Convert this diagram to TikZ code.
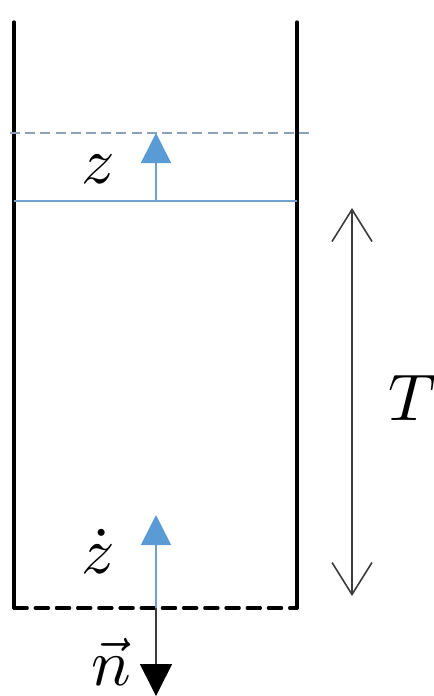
\documentclass[tikz,border=0pt]{standalone}
\usepackage{amsmath}
\usepackage{xcolor}
\usetikzlibrary{arrows.meta, positioning}
\definecolor{waterblue}{RGB}{91, 155, 213}
\definecolor{levelblue}{RGB}{112, 160, 204}
\definecolor{dashgray}{RGB}{140, 160, 185}
\definecolor{darkgray}{RGB}{60, 60, 60}

\begin{document}
\begin{tikzpicture}[x=0.25pt, y=-0.25pt,
    wall/.style={line width=0.8pt, line cap=round},
    rise/.style={-{Triangle[width=7.5pt, length=7.5pt, color=waterblue]},
                 draw=levelblue, line width=0.4pt},
    span/.style={{Straight Barb[width=10pt, length=8pt]}-{Straight Barb[width=10pt, length=8pt]},
                 draw=darkgray, line width=0.4pt},
    sym/.style={anchor=base, scale=1.65, inner sep=0pt}]

\useasboundingbox (0,0) rectangle (433,696);

% Tube walls
\coordinate (topleft) at (14,22);
\coordinate (botleft) at (14,608);
\coordinate (topright) at (297,22);
\coordinate (botright) at (297,608);
\draw[wall] (topleft) -- (botleft);
\draw[wall] (topright) -- (botright);
\draw[wall, dash pattern=on 3.3pt off 2pt] (botleft) -- (botright);

% Water levels
\coordinate (oldleft) at (14,201);
\coordinate (oldright) at (297,201);
\coordinate (newleft) at (10,133);
\coordinate (newright) at (310,133);
\draw[draw=levelblue, line width=0.4pt] (oldleft) -- (oldright);
\draw[draw=dashgray, line width=0.3pt, dash pattern=on 2.5pt off 1.3pt] (newleft) -- (newright);

% Level rise z
\coordinate (zfoot) at (156,201);
\coordinate (ztip) at (156,133);
\draw[rise] (zfoot) -- (ztip);
\node[sym] (zlabel) at (98,183) {$z$};

% Inflow rate at the bottom
\coordinate (zdotfoot) at (156,608);
\coordinate (zdottip) at (156,515);
\draw[rise] (zdotfoot) -- (zdottip);
\node[sym] (zdotlabel) at (98,573) {$\dot{z}$};

% Outward normal
\coordinate (ntip) at (156,696);
\draw[-{Triangle[width=8pt, length=8pt, color=black]}, draw=darkgray, line width=0.4pt]
      (zdotfoot) -- (ntip);
\node[sym] (nlabel) at (111,685) {$\vec{n}$};

% Thickness T
\coordinate (Ttop) at (352,208);
\coordinate (Tbot) at (352,596);
\draw[span] (Ttop) -- (Tbot);
\node[sym] (Tlabel) at (412,420) {$T$};

\end{tikzpicture}
\end{document}
